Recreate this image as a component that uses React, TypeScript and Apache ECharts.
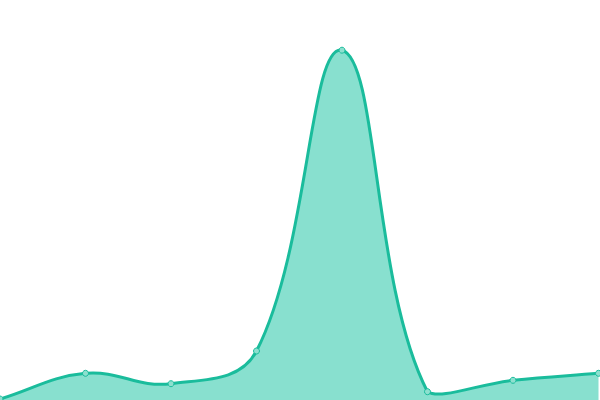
import { useEffect, useRef } from 'react'
import * as echarts from 'echarts'

const categories = ['1', '2', '3', '4', '5', '6', '7', '8']
const values = [1, 26.7, 16.3, 49, 349.8, 8.3, 19.7, 26.7]
const yMin = 0
const yMax = 400
const tension = 0.4

const lineColor = '#1abc9c'
const areaColor = '#88e0cf'
const pointFill = '#8de0cf'

type Pt = { x: number; y: number }

// spline control points (tension based), kept inside the plot area
function controlPoints(pts: Pt[], area: { x: number; y: number; width: number; height: number }) {
  const cap = (v: number, lo: number, hi: number) => Math.max(Math.min(v, hi), lo)
  return pts.map((cur, i) => {
    const prev = pts[i - 1] || cur
    const next = pts[i + 1] || cur
    const d01 = Math.hypot(cur.x - prev.x, cur.y - prev.y)
    const d12 = Math.hypot(next.x - cur.x, next.y - cur.y)
    const sum = d01 + d12
    const s01 = sum ? d01 / sum : 0
    const s12 = sum ? d12 / sum : 0
    const fa = tension * s01
    const fb = tension * s12
    const x0 = area.x
    const x1 = area.x + area.width
    const y0 = area.y
    const y1 = area.y + area.height
    return {
      inX: cap(cur.x - fa * (next.x - prev.x), x0, x1),
      inY: cap(cur.y - fa * (next.y - prev.y), y0, y1),
      outX: cap(cur.x + fb * (next.x - prev.x), x0, x1),
      outY: cap(cur.y + fb * (next.y - prev.y), y0, y1)
    }
  })
}

export default function App() {
  const chartRef = useRef<HTMLDivElement>(null)

  useEffect(() => {
    if (!chartRef.current) return
    const chart = echarts.init(chartRef.current, undefined, { renderer: 'svg' })

    const renderItem = (params: any, api: any) => {
      const idx = params.dataIndex
      const pts: Pt[] = values.map((v, i) => {
        const c = api.coord([i, v])
        return { x: c[0], y: c[1] }
      })
      const p = pts[idx]
      const circle = {
        type: 'circle',
        z2: 10,
        shape: { cx: p.x, cy: p.y, r: 3 },
        style: { fill: pointFill, stroke: lineColor, lineWidth: 1 }
      }
      if (idx !== 0) return circle

      const area = params.coordSys
      const cps = controlPoints(pts, area)
      let d = `M${pts[0].x},${pts[0].y}`
      for (let i = 1; i < pts.length; i++) {
        d += ` C${cps[i - 1].outX},${cps[i - 1].outY} ${cps[i].inX},${cps[i].inY} ${pts[i].x},${pts[i].y}`
      }
      const bottom = area.y + area.height
      const areaPath = `${d} L${pts[pts.length - 1].x},${bottom} L${pts[0].x},${bottom} Z`

      return {
        type: 'group',
        children: [
          { type: 'path', shape: { pathData: areaPath }, style: { fill: areaColor, stroke: 'none' } },
          {
            type: 'path',
            shape: { pathData: d },
            style: { fill: 'none', stroke: lineColor, lineWidth: 3, lineJoin: 'round' }
          },
          circle
        ]
      }
    }

    chart.setOption({
      animation: false,
      grid: { left: 0, right: 1.5, top: 0, bottom: 0 },
      xAxis: {
        type: 'category',
        data: categories,
        boundaryGap: false,
        show: false
      },
      yAxis: {
        type: 'value',
        min: yMin,
        max: yMax,
        show: false
      },
      series: [
        {
          type: 'custom',
          renderItem,
          data: values.map((v, i) => [i, v])
        }
      ]
    })

    return () => {
      chart.dispose()
    }
  }, [])

  return (
    <div
      ref={chartRef}
      style={{ position: 'fixed', left: 0, top: 0, width: '600px', height: '400px' }}
    />
  )
}
